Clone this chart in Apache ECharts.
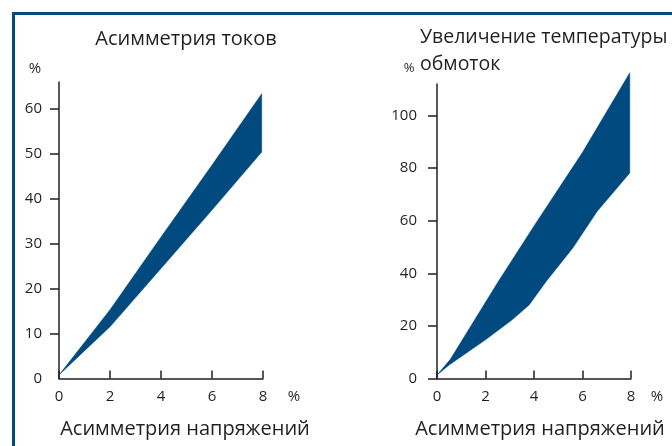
<!DOCTYPE html>
<html>
<head>
<meta charset="utf-8">
<script src="https://cdn.jsdelivr.net/npm/echarts@6/dist/echarts.min.js"></script>
<style>
	html, body { margin: 0; padding: 0; background: #fff; }
	#chart { width: 672px; height: 446px; }
</style>
</head>
<body>
<div id="chart"></div>
<script>
	"use strict";

	/*-----data-----*/
	var xTicks = [0, 2, 4, 6, 8];
	var currentTicks = [0, 10, 20, 30, 40, 50, 60];
	var tempTicks = [0, 20, 40, 60, 80, 100];

	// Асимметрия токов: band between upper and lower bound
	var currentUpperX = [0, 2, 4, 6, 7.95];
	var currentUpperY = [0.8, 15.3, 31.5, 47.5, 63.4];
	var currentLowerX = [0, 2, 4, 6, 7.95];
	var currentLowerY = [0.8, 11.5, 24.5, 37.5, 50.4];

	// Увеличение температуры обмоток
	var tempUpperX = [0, 0.55, 2.5, 4, 6, 7.95];
	var tempUpperY = [1.3, 7.3, 36.5, 58, 86, 116.3];
	var tempLowerX = [0, 0.5, 2, 3.1, 3.8, 4.5, 5.6, 6.6, 7.95];
	var tempLowerY = [1.3, 5.1, 14.7, 22.3, 28, 36.9, 49.6, 63.5, 78.2];

	var bandColor = '#004a80';
	var inkColor = '#231f20';
	var fontName = '"Open Sans", "Noto Sans", sans-serif';

	function bandSeries(axisIndex, upX, upY, loX, loY) {
		return {
			type: 'custom',
			xAxisIndex: axisIndex,
			yAxisIndex: axisIndex,
			clip: false,
			silent: true,
			data: [[0, 0]],
			renderItem: function (params, api) {
				var pts = [];
				for (var i = 0; i < upX.length; i++) {
					pts.push(api.coord([upX[i], upY[i]]));
				}
				for (var j = loX.length - 1; j >= 0; j--) {
					pts.push(api.coord([loX[j], loY[j]]));
				}
				return {
					type: 'polygon',
					shape: { points: pts },
					style: { fill: bandColor, stroke: bandColor, lineWidth: 0.5 }
				};
			}
		};
	}

	function xAxisCfg(gridIndex) {
		return {
			type: 'value',
			gridIndex: gridIndex,
			min: 0,
			max: 8,
			interval: 2,
			axisLine: { lineStyle: { color: inkColor, width: 1.5 } },
			axisTick: { inside: true, length: 8, customValues: xTicks, lineStyle: { color: inkColor, width: 1.5 } },
			axisLabel: { color: inkColor, fontSize: 15, fontFamily: fontName, margin: 11, customValues: xTicks },
			splitLine: { show: false }
		};
	}

	function yAxisCfg(gridIndex, max, ticks, tickMarks, margin) {
		return {
			type: 'value',
			gridIndex: gridIndex,
			min: 0,
			max: max,
			axisLine: { show: true, lineStyle: { color: inkColor, width: 1.5 } },
			axisTick: { show: true, length: 9, customValues: tickMarks, lineStyle: { color: inkColor, width: 1.5 } },
			axisLabel: { color: inkColor, fontSize: 15, fontFamily: fontName, margin: margin, customValues: ticks },
			splitLine: { show: false }
		};
	}

	function label(text, x, y, size, align) {
		return {
			type: 'text',
			x: x,
			y: y,
			style: {
				text: text,
				fill: inkColor,
				font: size + 'px ' + fontName,
				align: align || 'center',
				verticalAlign: 'middle'
			}
		};
	}

	var option = {
		animation: false,
		grid: [
			{ left: 59, right: 409, top: 82, bottom: 67.5 },
			{ left: 437, right: 41, top: 84, bottom: 67.5 }
		],
		xAxis: [xAxisCfg(0), xAxisCfg(1)],
		yAxis: [
			yAxisCfg(0, 66, currentTicks, currentTicks.slice(1), 17),
			yAxisCfg(1, 112, tempTicks, tempTicks, 20)
		],
		series: [
			bandSeries(0, currentUpperX, currentUpperY, currentLowerX, currentLowerY),
			bandSeries(1, tempUpperX, tempUpperY, tempLowerX, tempLowerY)
		],
		graphic: [
			{
				type: 'polyline',
				shape: { points: [[13.5, 446], [13.5, 13.5], [672, 13.5]] },
				style: { stroke: bandColor, lineWidth: 3, fill: null }
			},
			label('Асимметрия токов', 186, 39, 20),
			label('%', 35, 69, 15),
			label('%', 294, 397, 15),
			label('Асимметрия напряжений', 185, 429, 20),
			label('Увеличение температуры', 420, 37, 19.5, 'left'),
			label('обмоток', 420, 64, 19.5, 'left'),
			label('%', 409, 68, 13),
			label('%', 657, 397, 15),
			label('Асимметрия напряжений', 540, 429, 20)
		]
	};

	var chart = echarts.init(document.getElementById('chart'));
	chart.setOption(option);
</script>
</body>
</html>
